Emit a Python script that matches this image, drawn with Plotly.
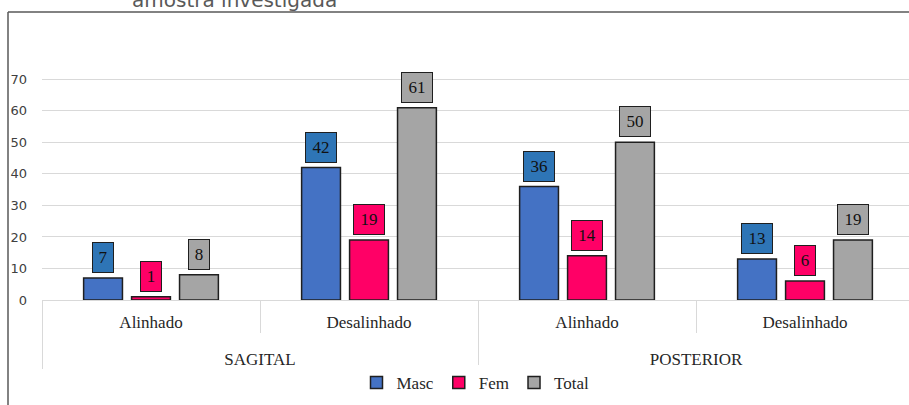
import plotly.graph_objects as go

# Categories: outer group (view) and inner group (alignment)
groups = ["SAGITAL", "SAGITAL", "POSTERIOR", "POSTERIOR"]
alignment = ["Alinhado", "Desalinhado", "Alinhado", "Desalinhado"]

# Counts per sex and total
masc = [7, 42, 36, 13]
fem = [1, 19, 14, 6]
total = [8, 61, 50, 19]

series_names = ["Masc", "Fem", "Total"]
series_values = [masc, fem, total]
bar_colors = ["#4472C4", "#FF0066", "#A5A5A5"]
label_colors = ["#2E75B6", "#FF0066", "#A5A5A5"]

title_text = "amostra investigada"

W, H = 909, 405
ML, MR, MT, MB = 42, 0, 73, 105
BARGAP = 0.34
serif = "Liberation Serif, Times New Roman, serif"

# Outer group labels sit one text line lower than plotly's default
outer_labels = ["<br>" + g for g in groups]

fig = go.Figure()
for name, vals, col in zip(series_names, series_values, bar_colors):
    fig.add_trace(go.Bar(
        x=[outer_labels, alignment], y=vals, name=name,
        marker=dict(color=col, line=dict(color="#1F1F1F", width=1.5)),
    ))

plot_w = W - ML - MR
plot_h = H - MT - MB
fx = lambda px: (px - ML) / plot_w
fy = lambda py: (H - MB - py) / plot_h

# Boxed value labels above each bar
slot = (1 - BARGAP) / len(series_names)
annotations = []
for k, (vals, bcol) in enumerate(zip(series_values, label_colors)):
    for i, v in enumerate(vals):
        txt = str(v)
        annotations.append(dict(
            x=i + (k - 1) * slot, y=v, xref="x", yref="y",
            text=txt, showarrow=False, yanchor="bottom", yshift=5,
            font=dict(family=serif, size=17, color="#111111"),
            bgcolor=bcol, bordercolor="#1F1F1F", borderwidth=1, borderpad=2,
            width=16 if len(txt) == 1 else 26, height=25,
        ))

# Partially visible heading above the frame
annotations.append(dict(
    x=fx(234), xref="paper", y=1, yref="paper", text=title_text,
    showarrow=False, xanchor="center", yanchor="bottom", yshift=MT - 14,
    font=dict(family="DejaVu Sans", size=20, color="#595959"),
))

shapes = [
    dict(type="line", xref="paper", yref="paper", x0=fx(8), x1=fx(8), y0=fy(12), y1=fy(H + 5),
         line=dict(color="#595959", width=1.5)),
    dict(type="line", xref="paper", yref="paper", x0=fx(8), x1=fx(W + 5), y0=fy(12), y1=fy(12),
         line=dict(color="#595959", width=1.5)),
]

fig.update_layout(
    width=W, height=H, autosize=False,
    margin=dict(l=ML, r=MR, t=MT, b=MB, pad=0),
    paper_bgcolor="white", plot_bgcolor="white",
    barmode="group", bargap=BARGAP, bargroupgap=0.19,
    showlegend=True,
    legend=dict(orientation="h", x=0.5, xanchor="center", y=(H - MB - 401) / plot_h,
                yanchor="bottom", font=dict(family=serif, size=17, color="#262626"),
                itemwidth=30, tracegroupgap=0),
    annotations=annotations, shapes=shapes,
    xaxis=dict(
        type="multicategory", range=[-0.5, -0.5 + plot_w / 218],
        showline=True, linecolor="#D9D9D9", linewidth=1,
        ticks="outside", ticklen=32, tickcolor="#D9D9D9", tickwidth=1,
        showdividers=True, dividercolor="#D9D9D9", dividerwidth=1,
        tickfont=dict(family=serif, size=17, color="#262626"),
        ticklabelstandoff=7,
        showgrid=False,
    ),
    yaxis=dict(
        range=[0, 72], tickvals=[0, 10, 20, 30, 40, 50, 60, 70],
        showgrid=True, gridcolor="#D9D9D9", gridwidth=1.2,
        zeroline=False, showline=False,
        tickfont=dict(family="DejaVu Sans", size=13, color="#404040"),
        ticklabelstandoff=14,
    ),
)

fig.write_html("out.html")
